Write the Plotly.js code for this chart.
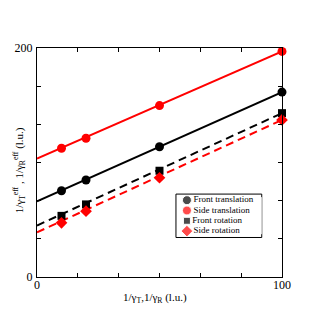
<!DOCTYPE html>
<html>
<head>
<meta charset="utf-8">
<script src="https://cdn.plot.ly/plotly-3.0.1.min.js"></script>
<style>html,body{margin:0;padding:0;background:#fff;}#chart{width:318px;height:326px;}</style>
</head>
<body>
<div id="chart"></div>
<script>
// ---- data ----
const gammaX = [10, 20, 50, 100];
const frontTranslation = [75.3, 84.7, 113.8, 161.5];
const sideTranslation = [112.4, 121.2, 149.7, 197.0];
const frontRotation = [53.4, 63.4, 92.8, 143.1];
const sideRotation = [47.3, 57.5, 86.7, 137.2];
// linear fits, evaluated at the ends of the x range
const fitX = [0, 100];
const fitFrontTranslation = [66.0, 161.5];
const fitSideTranslation = [103.5, 197.0];
const fitFrontRotation = [45.0, 143.1];
const fitSideRotation = [39.0, 137.2];
const seriesNames = ["Front translation", "Side translation", "Front rotation", "Side rotation"];
const xTitle = "1/γ<sub>T</sub>,1/γ<sub>R</sub> (l.u.)";
const yTitle = "1/γ<sub>T</sub><sup>eff</sup> , 1/γ<sub>R</sub><sup>eff</sup> (l.u.)";
const xMajorStep = 100;
const yMajorStep = 200;
const minorPerMajor = 6;

const colors = ["#000000", "#ff0000", "#000000", "#ff0000"];
const symbols = ["circle", "circle", "square", "diamond"];
const sizes = [9, 9, 8, 9];
const dashes = ["solid", "solid", "8px,5px", "8px,5px"];
const pts = [frontTranslation, sideTranslation, frontRotation, sideRotation];
const fits = [fitFrontTranslation, fitSideTranslation, fitFrontRotation, fitSideRotation];

const traces = [];
for (let i = 0; i < 4; i++) {
  traces.push({x: fitX, y: fits[i], mode: "lines", line: {color: colors[i], width: 2, dash: dashes[i]}, showlegend: false, hoverinfo: "skip"});
}
for (let i = 0; i < 4; i++) {
  traces.push({x: gammaX, y: pts[i], mode: "markers", name: seriesNames[i], marker: {color: colors[i], symbol: symbols[i], size: sizes[i]}, showlegend: false, cliponaxis: false});
}
// legend drawn as a small inset
traces.push({
  x: seriesNames.map(() => 0), y: seriesNames.map((_, i) => i),
  mode: "markers+text", text: seriesNames, textposition: "middle right",
  textfont: {family: "Liberation Serif", size: 9, color: "#000"},
  marker: {color: colors, symbol: symbols, size: [9, 9, 7, 9]},
  xaxis: "x2", yaxis: "y2", showlegend: false, hoverinfo: "skip", cliponaxis: false
});

const L = 36.7, R = 282.3, T = 48.3, B = 276.7, W = 318, H = 326;
const px = v => (v - L) / (R - L);
const py = v => (B - v) / (B - T);

const axisCommon = {
  ticks: "inside", ticklen: 4, tickcolor: "#000", tickwidth: 1,
  showline: true, linecolor: "#000", linewidth: 1, mirror: "ticks",
  showgrid: false, zeroline: false,
  tickfont: {family: "Liberation Serif", size: 12}
};

const layout = {
  width: W, height: H,
  margin: {l: L, r: W - R, t: T, b: H - B, pad: 0},
  paper_bgcolor: "#fff", plot_bgcolor: "#fff",
  font: {family: "Liberation Serif", color: "#000", size: 12},
  showlegend: false,
  xaxis: Object.assign({}, axisCommon, {
    range: [0, 100], tick0: 0, dtick: xMajorStep, ticklabelstandoff: -3,
    minor: {dtick: xMajorStep / minorPerMajor, ticks: "inside", ticklen: 4, tickcolor: "#000", showgrid: false}
  }),
  yaxis: Object.assign({}, axisCommon, {
    range: [0, 200], tick0: 0, dtick: yMajorStep, ticklabelstandoff: 1,
    minor: {dtick: yMajorStep / minorPerMajor, ticks: "inside", ticklen: 4, tickcolor: "#000", showgrid: false}
  }),
  xaxis2: {domain: [px(181), px(262)], anchor: "y2", range: [-0.8, 10], visible: false, fixedrange: true},
  yaxis2: {domain: [py(234), py(197)], anchor: "x2", range: [3.3, -0.3], visible: false, fixedrange: true},
  annotations: [
    {text: xTitle, xref: "paper", yref: "paper", x: px(155), y: py(298), xanchor: "center", yanchor: "middle", showarrow: false, font: {family: "Liberation Serif", size: 11, color: "#000"}},
    {text: yTitle, xref: "paper", yref: "paper", x: px(19), y: py(170), xanchor: "center", yanchor: "middle", textangle: -90, showarrow: false, font: {family: "Liberation Serif", size: 11, color: "#000"}}
  ],
  shapes: [{type: "rect", xref: "paper", yref: "paper", x0: px(176), x1: px(262), y0: py(237.3), y1: py(194), line: {color: "#000", width: 1}, fillcolor: "rgba(0,0,0,0)", layer: "below"}]
};

Plotly.newPlot("chart", traces, layout, {staticPlot: true, displayModeBar: false});
</script>
</body>
</html>
